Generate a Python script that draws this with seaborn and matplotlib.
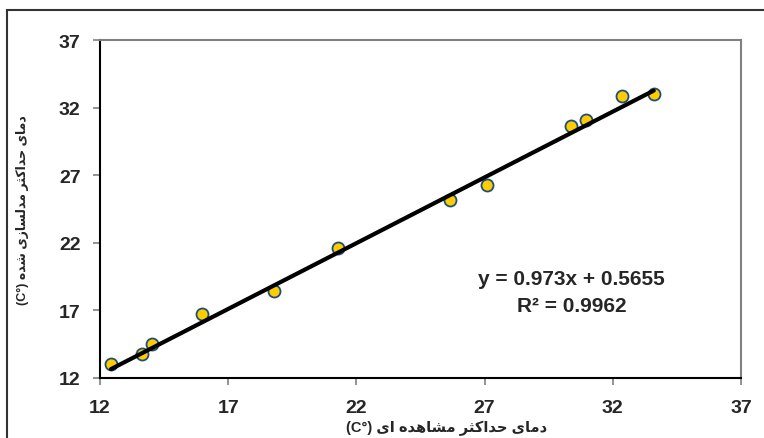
import numpy as np
import pandas as pd
import seaborn as sns
import matplotlib.pyplot as plt
from matplotlib.patches import Rectangle

# داده ها: دمای حداکثر مشاهده ای در برابر مدلسازی شده
observed = [12.43, 13.64, 14.03, 15.98, 18.80, 21.30, 25.67, 27.09, 30.38, 30.97, 32.37, 33.60]
simulated = [13.04, 13.78, 14.50, 16.73, 18.43, 21.60, 25.17, 26.25, 30.66, 31.08, 32.88, 33.00]
slope = 0.973
intercept = 0.5655
r2 = 0.9962
ticks = [12, 17, 22, 27, 32, 37]

x_title = "دمای حداکثر مشاهده ای"
y_title = "دمای حداکثر مدلسازی شده"
unit = "(C°)"

# matplotlib حروف فارسی را به هم نمی چسباند، پس شکل ها را دستی می سازیم
FORMS = {
    "ا": ("\uFE8D", "\uFE8E", None, None),
    "د": ("\uFEA9", "\uFEAA", None, None),
    "ر": ("\uFEAD", "\uFEAE", None, None),
    "ز": ("\uFEAF", "\uFEB0", None, None),
    "م": ("\uFEE1", "\uFEE2", "\uFEE3", "\uFEE4"),
    "ی": ("\uFBFC", "\uFBFD", "\uFBFE", "\uFBFF"),
    "ح": ("\uFEA1", "\uFEA2", "\uFEA3", "\uFEA4"),
    "ک": ("\uFB8E", "\uFB8F", "\uFB90", "\uFB91"),
    "ث": ("\uFE99", "\uFE9A", "\uFE9B", "\uFE9C"),
    "ش": ("\uFEB5", "\uFEB6", "\uFEB7", "\uFEB8"),
    "ه": ("\uFEE9", "\uFEEA", "\uFEEB", "\uFEEC"),
    "ل": ("\uFEDD", "\uFEDE", "\uFEDF", "\uFEE0"),
    "س": ("\uFEB1", "\uFEB2", "\uFEB3", "\uFEB4"),
}


def shape(text):
    out = []
    for i, c in enumerate(text):
        f = FORMS.get(c)
        if f is None:
            out.append(c)
            continue
        prev = text[i - 1] if i > 0 else None
        nxt = text[i + 1] if i + 1 < len(text) else None
        join_prev = prev in FORMS and FORMS[prev][2] is not None
        join_next = nxt in FORMS and f[2] is not None
        if join_prev and join_next:
            out.append(f[3])
        elif join_prev:
            out.append(f[1])
        elif join_next:
            out.append(f[2])
        else:
            out.append(f[0])
    return "".join(out)[::-1]


df = pd.DataFrame({"observed": observed, "simulated": simulated})
line_x = [min(observed), max(observed)]
line_df = pd.DataFrame({"x": line_x, "y": [slope * v + intercept for v in line_x]})

sns.set_style("ticks")
plt.rcParams["font.family"] = ["Liberation Sans", "DejaVu Sans"]
plt.rcParams["font.weight"] = "bold"

fig = plt.figure(figsize=(7.64, 4.39), dpi=100)
ax = fig.add_axes([0.1309, 0.1367, 0.8389, 0.7699])

sns.scatterplot(data=df, x="observed", y="simulated", ax=ax, s=75,
                color="#FFCC00", edgecolor="#1F4E79", linewidth=1.3, zorder=3)
sns.lineplot(data=line_df, x="x", y="y", ax=ax, color="black", linewidth=3, zorder=4)

ax.set_xlim(ticks[0], ticks[-1])
ax.set_ylim(ticks[0], ticks[-1])
ax.set_xticks(ticks)
ax.set_yticks(ticks)
ax.tick_params(axis="both", labelsize=14, length=5, width=1.2, color="#808080", pad=9)
ax.tick_params(axis="x", pad=10)
for lab in ax.get_xticklabels() + ax.get_yticklabels():
    lab.set_fontweight("bold")

for side in ["left", "bottom"]:
    ax.spines[side].set_color("black")
    ax.spines[side].set_linewidth(1.5)
for side in ["top", "right"]:
    ax.spines[side].set_color("#808080")
    ax.spines[side].set_linewidth(1.5)

ax.set_xlabel(unit + " " + shape(x_title), fontsize=10.5, fontweight="bold")
ax.set_ylabel(unit + " " + shape(y_title), fontsize=9, fontweight="bold")
ax.xaxis.set_label_coords(0.54, -0.124)
ax.yaxis.set_label_coords(-0.111, 0.5)

ax.text(0.736, 0.293, f"y = {slope}x + {intercept}", transform=ax.transAxes,
        ha="center", va="center", fontsize=15, fontweight="bold")
ax.text(0.736, 0.213, f"R² = {r2}", transform=ax.transAxes,
        ha="center", va="center", fontsize=15, fontweight="bold")

fig.patches.append(Rectangle((0.0092, -0.1), 1.2, 1.075, transform=fig.transFigure,
                             fill=False, linewidth=1.5, edgecolor="#333333"))

plt.savefig("out.png", dpi=100)
